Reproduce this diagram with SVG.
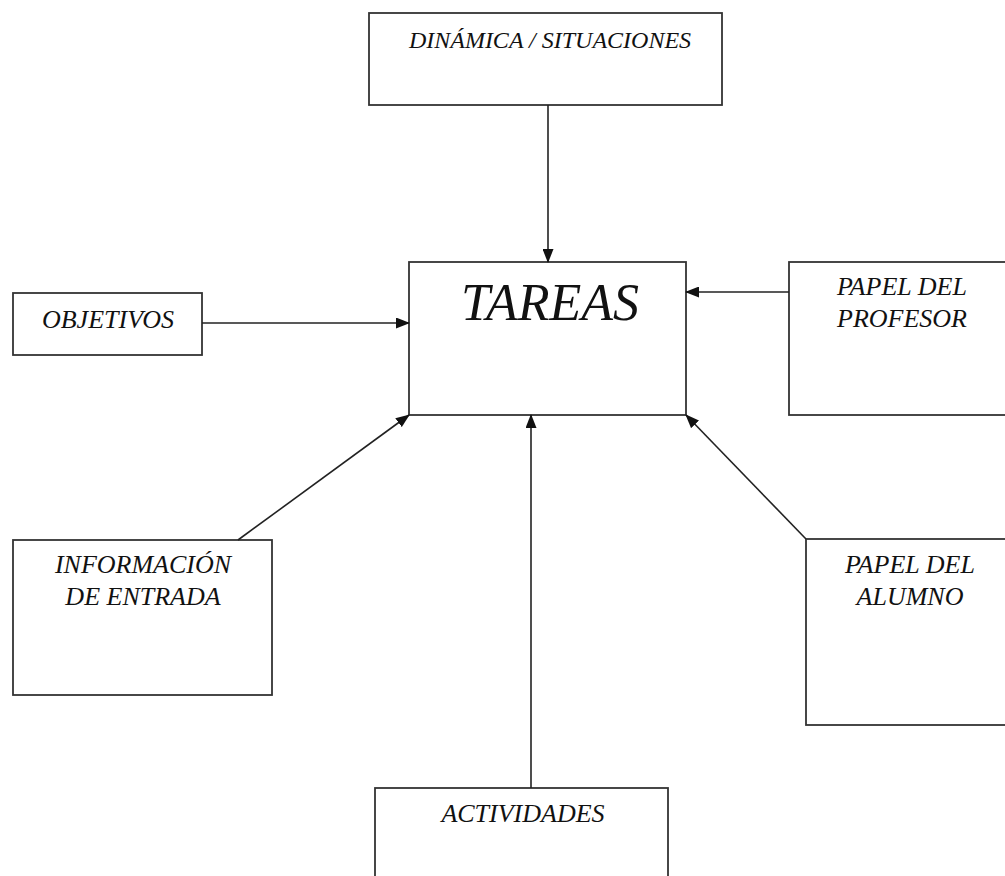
<svg xmlns="http://www.w3.org/2000/svg" width="1005" height="876" viewBox="0 0 1005 876">
<defs>
<marker id="arr" markerWidth="14" markerHeight="11" refX="13" refY="5.5" orient="auto" markerUnits="userSpaceOnUse">
<path d="M0,0 L14,5.5 L0,11 Z" fill="#111"/>
</marker>
<style>
.box{fill:#fff;stroke:#333;stroke-width:1.8}
.lbl{font-family:"Liberation Serif","Times New Roman",serif;font-style:italic;font-size:26px;fill:#111;text-anchor:middle}
.mid{font-size:24px}
.big{font-size:52px}
.con{stroke:#222;stroke-width:1.6;fill:none;marker-end:url(#arr)}
</style>
</defs>
<rect width="1005" height="876" fill="#fff"/>
<g id="dinamica"><rect class="box" x="369" y="13" width="353" height="92"/><text class="lbl mid" x="550" y="48">DINÁMICA / SITUACIONES</text></g>
<g id="tareas"><rect class="box" x="409" y="262" width="277" height="153"/><text class="lbl big" x="550" y="320">TAREAS</text></g>
<g id="objetivos"><rect class="box" x="13" y="293" width="189" height="62"/><text class="lbl" x="108" y="328">OBJETIVOS</text></g>
<g id="profesor"><rect class="box" x="789" y="262" width="230" height="153"/><text class="lbl" x="902" y="295">PAPEL DEL</text><text class="lbl" x="902" y="327">PROFESOR</text></g>
<g id="informacion"><rect class="box" x="13" y="540" width="259" height="155"/><text class="lbl" x="143" y="573">INFORMACIÓN</text><text class="lbl" x="143" y="605">DE ENTRADA</text></g>
<g id="alumno"><rect class="box" x="806" y="539" width="220" height="186"/><text class="lbl" x="910" y="573">PAPEL DEL</text><text class="lbl" x="910" y="605">ALUMNO</text></g>
<g id="actividades"><rect class="box" x="375" y="788" width="293" height="100"/><text class="lbl" x="523" y="822">ACTIVIDADES</text></g>
<g id="connectors">
<line class="con" x1="548" y1="105" x2="548" y2="262"/>
<line class="con" x1="202" y1="323" x2="409" y2="323"/>
<line class="con" x1="789" y1="292" x2="686" y2="292"/>
<line class="con" x1="238" y1="540" x2="409" y2="415"/>
<line class="con" x1="806" y1="539" x2="686" y2="415"/>
<line class="con" x1="531" y1="788" x2="531" y2="415"/>
</g>
</svg>
